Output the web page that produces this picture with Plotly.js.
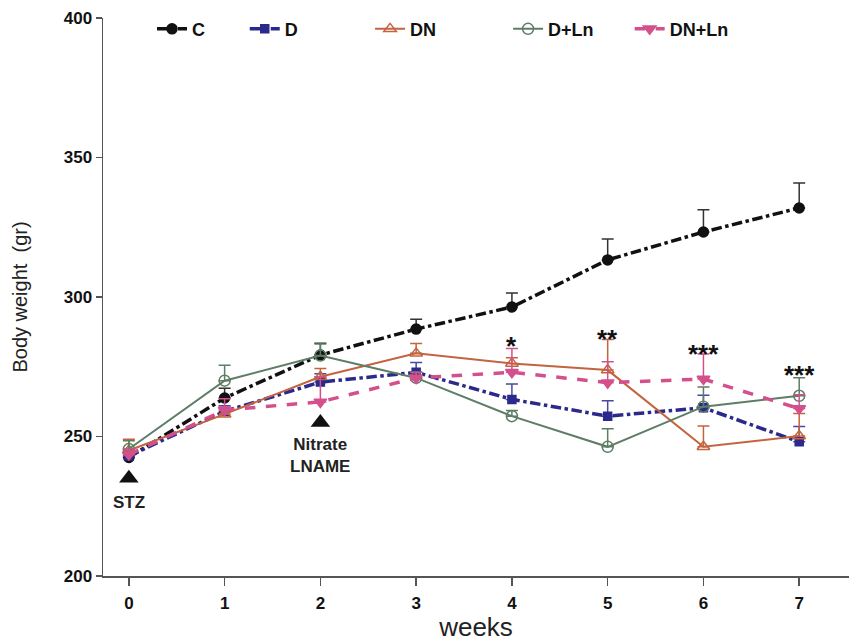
<!DOCTYPE html>
<html>
<head>
<meta charset="utf-8">
<script src="https://cdn.plot.ly/plotly-3.0.1.min.js"></script>
<style>html,body{margin:0;padding:0;background:#fff;}#chart{width:849px;height:642px;}</style>
</head>
<body>
<div id="chart"></div>
<script>
// ---- data ----
const weeks = [0, 1, 2, 3, 4, 5, 6, 7];
const seriesNames = ["C", "D", "DN", "D+Ln", "DN+Ln"];
const C_vals   = [242.5, 263.8, 279.2, 288.5, 296.4, 313.3, 323.3, 331.9];
const C_err    = [0, 3.5, 4, 3.5, 5, 7.5, 8, 9];
const D_vals   = [243, 259, 269.5, 273, 263.3, 257.3, 260.3, 248.1];
const D_err    = [0, 2, 3, 3.5, 5.5, 5.5, 4.5, 5.5];
const DN_vals  = [245, 258, 271.4, 279.8, 276.2, 273.8, 246.3, 250.2];
const DN_err   = [4, 2, 3, 3.5, 2, 11, 7.5, 8];
const DLn_vals = [245.5, 270, 279, 271, 257.3, 246.3, 260.7, 264.6];
const DLn_err  = [3, 5.5, 4.5, 2, 2, 6.5, 7, 6.5];
const DNLn_vals= [243.5, 259.5, 262.4, 271, 273, 269.3, 270.6, 260];
const DNLn_err = [2, 4, 9, 2, 8.5, 7.5, 9, 5];
const sigWeeks = [4, 5, 6, 7];
const sigLabels = ["*", "**", "***", "***"];
const sigY = [282.3, 285.1, 279.7, 272.2];
const arrowWeeks = [0, 2];
const arrowY = [235, 255];
const arrowLabels = ["STZ", "Nitrate<br>LNAME"];
const arrowLabelY = [226.2, 243.3];

// ---- styling ----
const FONT = "Liberation Sans, Arial, sans-serif";
const colors = ["#111111", "#2b2a8c", "#c4633f", "#5e7d66", "#d4508c"];
const errColors = ["#333333", "#4a49a0", "#c4633f", "#5e7d66", "#d4508c"];
const dashes = ["dashdot", "dashdot", "solid", "solid", "dash"];
const widths = [3.5, 3.5, 2, 2, 3.5];
const symbols = ["circle", "square", "triangle-up-open", "circle-open", "triangle-down"];
const msizes = [10, 8, 11, 11, 11];
const legendX = [0.0657, 0.190, 0.358, 0.543, 0.706];
const vals = [C_vals, D_vals, DN_vals, DLn_vals, DNLn_vals];
const errs = [C_err, D_err, DN_err, DLn_err, DNLn_err];
const legendIds = ["legend", "legend2", "legend3", "legend4", "legend5"];

const traces = seriesNames.map((n, i) => ({
  x: weeks, y: vals[i], name: n, type: "scatter", mode: "lines+markers",
  legend: legendIds[i],
  line: {color: colors[i], width: widths[i], dash: dashes[i]},
  marker: {color: colors[i], size: msizes[i], symbol: symbols[i], line: {color: colors[i], width: 1.5}},
  error_y: {type: "data", symmetric: false, array: errs[i], arrayminus: weeks.map(() => 0),
            color: errColors[i], thickness: 1.5, width: 6}
}));

traces.push({
  x: arrowWeeks, y: arrowY, type: "scatter", mode: "markers", showlegend: false, hoverinfo: "skip",
  marker: {symbol: "triangle-up", size: 17, color: "#111"}
});

const annotations = [];
sigWeeks.forEach((w, i) => annotations.push({
  x: w, y: sigY[i], text: sigLabels[i], showarrow: false, xref: "x", yref: "y",
  font: {family: FONT, size: 26, color: "#111", weight: "bold"}
}));
arrowWeeks.forEach((w, i) => annotations.push({
  x: w, y: arrowLabelY[i], text: "<b>" + arrowLabels[i] + "</b>", showarrow: false, xref: "x", yref: "y",
  yanchor: "middle",
  font: {family: FONT, size: 17, color: "#222"}
}));

const layout = {
  width: 849, height: 642,
  margin: {l: 103, r: 0, t: 18, b: 66},
  paper_bgcolor: "#fff", plot_bgcolor: "#fff",
  showlegend: true,
  annotations: annotations,
  xaxis: {range: [-0.27, 7.52], tickvals: weeks, ticktext: weeks.map(String),
          showgrid: false, zeroline: false, showline: true, linecolor: "#555", linewidth: 1.5,
          ticks: "outside", ticklen: 8, tickcolor: "#555", tickwidth: 1.5, ticklabelstandoff: 3,
          tickfont: {family: FONT, size: 17, color: "#111", weight: "bold"},
          title: {text: "weeks", font: {family: FONT, size: 26, color: "#222"}, standoff: 9}},
  yaxis: {range: [200, 400], tickvals: [200, 250, 300, 350, 400],
          showgrid: false, zeroline: false, showline: true, linecolor: "#555", linewidth: 1.5,
          ticks: "outside", ticklen: 6, tickcolor: "#555", tickwidth: 1.5,
          tickfont: {family: FONT, size: 17, color: "#111", weight: "bold"},
          title: {text: "Body weight  (gr)", font: {family: FONT, size: 20, color: "#222"}, standoff: 30}}
};
legendIds.forEach((id, i) => {
  layout[id] = {orientation: "h", x: legendX[i], xanchor: "left", y: 0.98, yanchor: "middle",
                font: {family: FONT, size: 18, color: "#111", weight: "bold"},
                bgcolor: "rgba(0,0,0,0)", itemwidth: 30};
});

Plotly.newPlot("chart", traces, layout, {displayModeBar: false, staticPlot: true});
</script>
</body>
</html>
